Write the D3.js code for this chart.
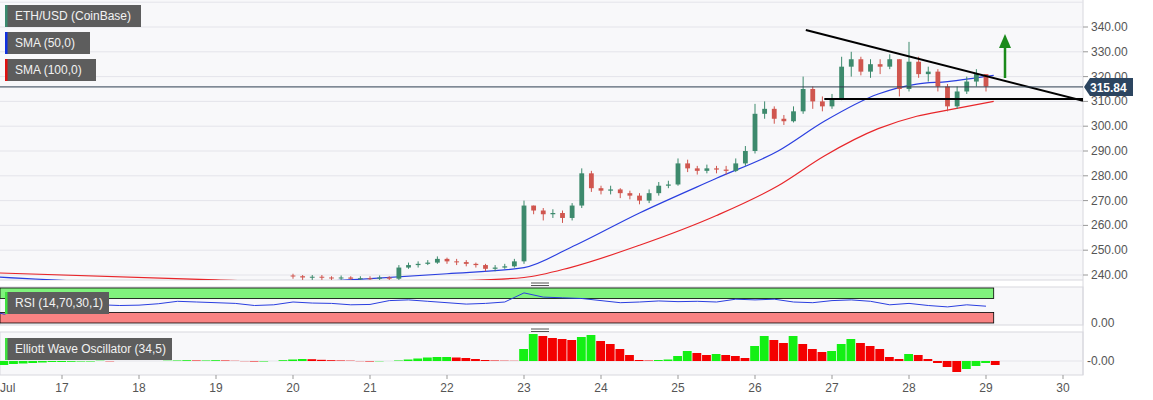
<!DOCTYPE html>
<html>
<head>
<meta charset="utf-8">
<script src="https://cdn.jsdelivr.net/npm/d3@7"></script>
<style>
  body { margin: 0; background: #fff; font-family: "Liberation Sans", Arial, sans-serif; }
  text { font-family: "Liberation Sans", Arial, sans-serif; }
</style>
</head>
<body>
<svg id="chart" width="1153" height="400"></svg>
<script>
// 3-hour candles starting Jul 20 00:00 (open = previous close)
var candleStart = 20, candleStep = 0.125, firstOpen = 239.8;
var closes = [
  239.5,239,239.3,239,238.8,239,238.5,238.7,
  238.5,239,238.5,243,244,244.5,245,246.5,
  245.5,245.2,244.5,244,242.5,243,243.5,245.5,
  268,266,264.5,265,263,268,281,275,
  274,274.5,273,272,270,273,276,276.5,
  285,283,282,283,282.5,282,285,290,
  305,307,303,302,306,315,310,308,
  311,324,327,322,325,324,327,315,
  326,321,322,316,308,314,318,321,
  316];
var highs = [
  240.5,240,240,240,239.5,239.8,239.5,239.5,
  239.5,239.8,239.5,244,245,245.5,246,247.5,
  247,246.5,246,245,244.5,244,244.5,246.5,
  270,268,267,266.5,266,269,283,282,
  276,276,275,274,273,274.5,277.5,278,
  287,286.5,284,284.5,284,284,287,292,
  309,310,308,304.5,308,320,316,312,
  313,328,330,328,327,327,329,327,
  334,328,324,323,317,316,320,323,
  321];
var lows = [
  238.5,238,238,238,237.5,238,237.5,237.5,
  237.5,238,237.5,238,242.5,243,244,244.5,
  244.5,244,243.5,243,241.5,241.5,242.5,243,
  244.5,264.5,262,263,261,262,267,273.5,
  272.5,272.5,271,270.5,268.5,269,272,275,
  276,281.5,280.5,281,281,280.5,281.5,284,
  289,303,301,300.5,301.5,305,307,306,
  307,310.5,320,320.5,319.5,321,323,312,
  314,319.5,318,314,306,307,313,316,
  314];

// SMA lines (day, value)
var smaDays = [16, 19, 21, 22, 23, 23.6, 24.5, 25.5, 26.3, 26.9, 27.6, 28.1, 28.5, 29.1];
var sma50  = [239.5, 236, 238.5, 240.5, 243, 251, 265, 279, 290, 302, 313, 317, 318, 320.5];
var sma100 = [241, 238, 236.5, 237.5, 239, 243, 252, 264, 276, 288, 299, 304, 306.5, 310];

// RSI every 6 hours from Jul 16
var rsiStart = 16, rsiStep = 0.25;
var rsi = [40,25,45,48, 50,52,52,50, 51,55,62,60, 58,56,50,52, 60,57,56,52,
  53,64,66,62, 58,54,56,60, 86,74,72,70, 64,58,60,63, 61,62,60,68,
  66,68,60,58, 64,66,62,52, 56,50,46,52, 48];

// Elliott Wave Oscillator, 3-hour bars from Jul 16
var ewoStart = 16, ewoStep = 0.125;
var ewo = [
  -3,-4,-4,-3,-2.5,-2,-1.5,-1,
  -1,-0.8,-0.5,-0.5,0.3,-0.3,0,0,
  0,0,0,0.3,0.5,0.8,0.5,0.5,
  0.8,0.5,0.2,-0.2,-0.5,-0.5,0,0.8,
  1.5,2,1.8,1.2,0.8,0.5,0.3,-0.2,
  -0.5,-0.3,0,0.5,1.5,2.5,3.5,4,
  4,3.5,3,2,1,0.5,0.3,0.2,
  12,27,25,23,22,21,24,26,
  20,17,12,6,1,0.5,1,1.5,
  5,10,8,6,7,6,5,3,
  15,25,21,18,25,17,12,9,
  10,17,22,18,15,12,4,2,
  7,6,2,-2,-6,-11,-8,-5,
  -2,-4];

var xTicks = [17,18,19,20,21,22,23,24,25,26,27,28,29,30];
var priceTicks = [240,250,260,270,280,290,300,310,320,330,340];
var lastPrice = 315.84;
var trendDays = [26.66, 30.26], trendVals = [338.8, 310.2];
var supportDays = [26.9, 30.26], supportVal = 311;

var svg = d3.select("#chart");
var plotR = 1083;
var x = d3.scaleLinear().domain([16, 30]).range([-15, 1063]);
var y = d3.scaleLinear().domain([240, 340]).range([275, 27]);
var yR = d3.scaleLinear().domain([0, 100]).range([323, 288]);
var yE = d3.scaleLinear().domain([0, 28]).range([361, 333]);

var defs = svg.append("defs");
[["cP", 0, 280], ["cR", 287, 38], ["cE", 332, 43]].forEach(function (c) {
  defs.append("clipPath").attr("id", c[0]).append("rect")
    .attr("x", 0).attr("y", c[1]).attr("width", plotR).attr("height", c[2]);
});

// backgrounds
svg.append("rect").attr("x", 0).attr("y", 0).attr("width", plotR).attr("height", 280).attr("fill", "#f8f8fa");
svg.append("rect").attr("x", 0).attr("y", 287).attr("width", plotR).attr("height", 38).attr("fill", "#f8f8fa").attr("stroke", "#d8d8de");
svg.append("rect").attr("x", 0).attr("y", 332).attr("width", plotR).attr("height", 43).attr("fill", "#f8f8fa").attr("stroke", "#d8d8de");
svg.append("line").attr("x1", 0).attr("x2", plotR).attr("y1", 280).attr("y2", 280).attr("stroke", "#d8d8de");
svg.append("line").attr("x1", plotR).attr("x2", plotR).attr("y1", 0).attr("y2", 375).attr("stroke", "#d8d8de");

// price grid + axis
var pg = svg.append("g");
pg.selectAll("line.g").data(priceTicks.concat([350])).enter().append("line")
  .attr("x1", 0).attr("x2", plotR).attr("y1", y).attr("y2", y).attr("stroke", "#e4e4ea");
pg.selectAll("text").data(priceTicks).enter().append("text")
  .attr("x", 1091).attr("y", function (d) { return y(d) + 4; })
  .attr("font-size", 12).attr("fill", "#555").text(function (d) { return d.toFixed(2); });
pg.selectAll("line.t").data(priceTicks).enter().append("line")
  .attr("x1", plotR).attr("x2", plotR + 5).attr("y1", y).attr("y2", y).attr("stroke", "#999");

// indicator axis labels
svg.append("text").attr("x", 1091).attr("y", yR(0) + 4).attr("font-size", 12).attr("fill", "#555").text("0.00");
svg.append("text").attr("x", 1087).attr("y", yE(0) + 4).attr("font-size", 12).attr("fill", "#555").text("-0.00");
svg.append("line").attr("x1", 0).attr("x2", plotR).attr("y1", yE(0)).attr("y2", yE(0)).attr("stroke", "#e4e4ea");

var price = svg.append("g").attr("clip-path", "url(#cP)");

// SMA lines
var line = d3.line().x(function (d) { return x(d[0]); }).y(function (d) { return y(d[1]); }).curve(d3.curveMonotoneX);
price.append("path").datum(d3.zip(smaDays, sma100)).attr("d", line).attr("fill", "none").attr("stroke", "#e8262a").attr("stroke-width", 1.2);
price.append("path").datum(d3.zip(smaDays, sma50)).attr("d", line).attr("fill", "none").attr("stroke", "#2a3fe0").attr("stroke-width", 1.2);

// candles
var candles = closes.map(function (c, i) {
  return { t: candleStart + i * candleStep, o: i ? closes[i - 1] : firstOpen, c: c, h: highs[i], l: lows[i] };
});
var cw = x(candleStep) - x(0);
var cg = price.selectAll("g.c").data(candles).enter().append("g");
cg.append("line").attr("x1", function (d) { return x(d.t); }).attr("x2", function (d) { return x(d.t); })
  .attr("y1", function (d) { return y(d.h); }).attr("y2", function (d) { return y(d.l); })
  .attr("stroke", function (d) { return d.c >= d.o ? "#3d8a6d" : "#d0564f"; });
cg.append("rect").attr("x", function (d) { return x(d.t) - cw * 0.25; }).attr("width", cw * 0.5)
  .attr("y", function (d) { return y(Math.max(d.o, d.c)); })
  .attr("height", function (d) { return Math.max(1, Math.abs(y(d.o) - y(d.c))); })
  .attr("fill", function (d) { return d.c >= d.o ? "#3d8a6d" : "#d0564f"; });

// last price line + label
svg.append("line").attr("x1", 0).attr("x2", plotR).attr("y1", y(lastPrice)).attr("y2", y(lastPrice)).attr("stroke", "#2c3e50").attr("stroke-width", 1);
svg.append("path").attr("d", "M1084," + y(lastPrice) + "l6,-9h43v18h-43z").attr("fill", "#2c4560");
svg.append("text").attr("x", 1090).attr("y", y(lastPrice) + 5).attr("font-size", 12).attr("font-weight", "bold").attr("fill", "#fff").text(lastPrice.toFixed(2));

// drawn trend lines and arrow
price.append("line").attr("x1", x(trendDays[0])).attr("x2", x(trendDays[1])).attr("y1", y(trendVals[0])).attr("y2", y(trendVals[1])).attr("stroke", "#000").attr("stroke-width", 2);
price.append("line").attr("x1", x(supportDays[0])).attr("x2", x(supportDays[1])).attr("y1", y(supportVal)).attr("y2", y(supportVal)).attr("stroke", "#000").attr("stroke-width", 2);
svg.append("line").attr("x1", 1005).attr("x2", 1005).attr("y1", 78).attr("y2", 46).attr("stroke", "#1a8a1a").attr("stroke-width", 2.5);
svg.append("path").attr("d", "M999,48L1005,34L1011,48Z").attr("fill", "#1a8a1a");

// RSI
var rEnd = x(29.1);
svg.append("rect").attr("x", 0).attr("y", yR(100)).attr("width", rEnd).attr("height", yR(70) - yR(100)).attr("fill", "#80f37d").attr("stroke", "#000").attr("stroke-width", 0.8);
svg.append("rect").attr("x", 0).attr("y", yR(30)).attr("width", rEnd).attr("height", yR(0) - yR(30)).attr("fill", "#f98383").attr("stroke", "#000").attr("stroke-width", 0.8);
svg.append("g").attr("clip-path", "url(#cR)").append("path")
  .datum(rsi).attr("fill", "none").attr("stroke", "#2a3fe0").attr("stroke-width", 1)
  .attr("d", d3.line().x(function (d, i) { return x(rsiStart + i * rsiStep); }).y(function (d) { return yR(d); }));

// EWO
var ew = x(ewoStep) - x(0);
svg.append("g").attr("clip-path", "url(#cE)").selectAll("rect").data(ewo).enter().append("rect")
  .attr("x", function (d, i) { return x(ewoStart + i * ewoStep) - ew / 2; }).attr("width", ew - 0.8)
  .attr("y", function (d) { return Math.min(yE(d), yE(0)); })
  .attr("height", function (d) { return Math.abs(yE(d) - yE(0)); })
  .attr("fill", function (d, i) { return i && d < ewo[i - 1] ? "#f40000" : "#14f014"; });

// x axis
svg.selectAll("text.x").data(xTicks).enter().append("text")
  .attr("x", x).attr("y", 392).attr("text-anchor", "middle").attr("font-size", 12).attr("fill", "#555").text(function (d) { return d; });
svg.append("text").attr("x", 0).attr("y", 392).attr("font-size", 12).attr("fill", "#555").text("Jul");
svg.selectAll("line.x").data(xTicks).enter().append("line")
  .attr("x1", x).attr("x2", x).attr("y1", 375).attr("y2", 379).attr("stroke", "#999");

// panel handles
[283, 329].forEach(function (yy) {
  [0, 2.5].forEach(function (o) {
    svg.append("line").attr("x1", 531).attr("x2", 549).attr("y1", yy + o).attr("y2", yy + o).attr("stroke", "#555");
  });
});

// legend boxes
var legends = [
  ["ETH/USD (CoinBase)", 5, 5, 136, "#3b8a6e"],
  ["SMA (50,0)", 5, 32, 85, "#1030e0"],
  ["SMA (100,0)", 5, 59, 91, "#e01010"],
  ["RSI (14,70,30,1)", 5, 292, 104, "#40e040"],
  ["Elliott Wave Oscillator (34,5)", 5, 338, 167, "#40e040"]
];
legends.forEach(function (l) {
  var g = svg.append("g");
  g.append("rect").attr("x", l[1]).attr("y", l[2]).attr("width", l[3]).attr("height", 22).attr("fill", "#5d5d5d");
  g.append("rect").attr("x", l[1]).attr("y", l[2]).attr("width", 2.5).attr("height", 22).attr("fill", l[4]);
  g.append("text").attr("x", l[1] + 10).attr("y", l[2] + 15).attr("font-size", 12).attr("fill", "#f2f2f2").text(l[0]);
});
</script>
</body>
</html>
